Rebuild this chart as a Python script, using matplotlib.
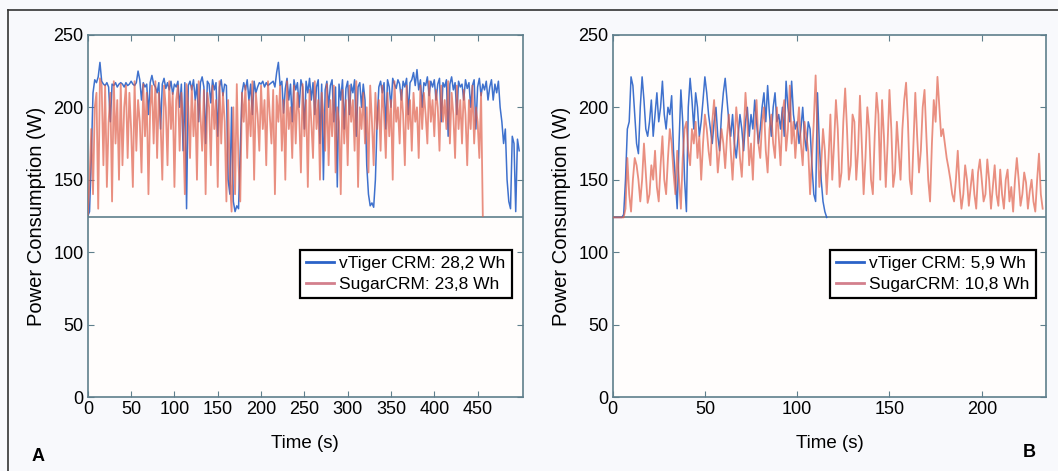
import numpy as np
import matplotlib
matplotlib.use("Agg")
import matplotlib.pyplot as plt
from matplotlib.lines import Line2D

plt.rcParams['font.family'] = ['Liberation Sans Narrow', 'Liberation Sans', 'DejaVu Sans']

# Panel A: samples every 2 s
vtigerA = [125, 128, 165, 210, 219, 217, 221, 231, 218, 216,
           215, 217, 214, 190, 216, 215, 217, 214, 216, 217,
           216, 214, 217, 215, 216, 218, 216, 215, 217, 225,
           219, 205, 217, 214, 216, 195, 217, 222, 216, 214,
           210, 217, 185, 216, 220, 213, 217, 212, 218, 209,
           216, 214, 218, 200, 216, 170, 217, 130, 215, 218,
           212, 219, 205, 216, 190, 217, 221, 214, 175, 218,
           216, 203, 219, 212, 217, 180, 214, 219, 208, 216,
           215, 150, 140, 200, 135, 128, 132, 130, 170, 210,
           217, 212, 219, 205, 216, 195, 218, 210, 214, 217,
           216, 218, 214, 217, 215, 216, 217, 218, 214, 224,
           231, 215, 218, 196, 213, 220, 205, 216, 190, 219,
           212, 217, 200, 219, 214, 185, 218, 210, 220, 205,
           217, 195, 214, 219, 175, 216, 150, 212, 218, 200,
           215, 219, 190, 214, 145, 216, 205, 219, 185, 213,
           218, 195, 216, 210, 219, 180, 214, 217, 200, 216,
           205, 160, 140, 132, 134, 131, 150, 190, 214, 218,
           210, 217, 185, 219, 214, 200, 220, 216, 213, 219,
           216, 205, 218, 214, 220, 195, 217, 219, 224, 215,
           226, 212, 219, 200, 217, 215, 221, 208, 218, 214,
           219, 205, 216, 220, 190, 217, 214, 219, 180, 216,
           221, 212, 217, 195, 218, 214, 216, 205, 219, 213,
           217, 200, 215, 219, 185, 214, 220, 208, 216, 212,
           218, 205, 214, 219, 205, 216, 210, 218, 200, 190,
           175, 185, 150, 135, 130, 180, 175, 128, 178, 170]

sugarA = [126, 150, 185, 140, 200, 210, 130, 220, 215, 160,
          215, 145, 190, 210, 135, 218, 175, 205, 150, 216,
          160, 200, 215, 165, 210, 185, 145, 218, 170, 205,
          190, 155, 216, 180, 210, 140, 200, 215, 175, 218,
          165, 210, 190, 150, 215, 200, 160, 218, 185, 210,
          145, 205, 215, 170, 210, 190, 140, 216, 200, 165,
          215, 180, 205, 150, 218, 195, 170, 212, 140, 210,
          200, 160, 215, 185, 205, 145, 218, 175, 210, 190,
          135, 205, 150, 128, 200, 140, 216, 160, 135, 210,
          190, 215, 165, 205, 180, 218, 150, 210, 195, 170,
          215, 185, 205, 160, 218, 195, 175, 212, 140, 208,
          190, 215, 170, 205, 150, 218, 185, 200, 165, 215,
          175, 210, 195, 155, 216, 180, 205, 145, 212, 190,
          165, 218, 185, 205, 150, 210, 195, 170, 216, 160,
          205, 180, 215, 155, 200, 190, 140, 212, 175, 205,
          160, 215, 190, 205, 170, 218, 145, 200, 185, 210,
          175, 200, 155, 215, 190, 160, 210, 185, 205, 170,
          215, 195, 165, 210, 180, 205, 150, 218, 190, 200,
          175, 212, 195, 160, 215, 185, 205, 170, 210, 190,
          200, 165, 215, 185, 210, 195, 175, 218, 190, 205,
          180, 212, 200, 170, 215, 190, 205, 185, 218, 175,
          210, 195, 165, 215, 185, 205, 175, 212, 195, 160,
          205, 185, 215, 175, 200, 190, 165, 210, 125]

# Panel B: samples every 1 s
vtigerB = [124, 124, 124, 124, 124, 124, 126, 150, 185, 190,
           221, 215, 195, 175, 168, 200, 221, 205, 185, 180,
           190, 205, 180, 195, 210, 190, 200, 218, 195, 185,
           200, 195, 208, 170, 150, 130, 175, 212, 190, 150,
           128, 200, 220, 205, 185, 210, 200, 180, 190, 205,
           221, 210, 195, 185, 175, 190, 200, 180, 170, 195,
           210, 220, 205, 190, 180, 195, 175, 165, 180, 195,
           185, 170, 190, 200, 180, 195, 185, 205, 190, 175,
           185, 200, 210, 190, 215, 195, 180, 200, 210, 190,
           195, 185, 200, 180, 218, 200, 190, 218, 195, 185,
           190, 175, 185, 200, 180, 170, 190, 185, 160, 140,
           135, 210, 175, 150, 135, 128, 124]

sugarB = [124, 124, 124, 124, 124, 124, 124, 130, 165, 140,
          128, 150, 165, 160, 150, 135, 150, 175, 155, 134,
          140, 160, 150, 170, 145, 135, 160, 180, 150, 140,
          165, 185, 175, 155, 140, 170, 150, 130, 165, 185,
          190, 170, 160, 185, 175, 190, 165, 180, 150, 175,
          195, 185, 170, 160, 190, 205, 180, 155, 170, 185,
          175, 158, 180, 195, 170, 150, 175, 200, 185, 165,
          152, 180, 210, 190, 160, 175, 150, 185, 205, 175,
          165, 190, 200, 170, 155, 185, 195, 175, 165, 200,
          180, 160, 195, 205, 170, 185, 215, 175, 190, 165,
          185, 200, 175, 160, 190, 180, 170, 140, 165, 190,
          222, 180, 145, 160, 185, 170, 140, 165, 195, 150,
          175, 205, 185, 145, 155, 190, 213, 185, 150, 160,
          195, 190, 150, 170, 208, 175, 140, 165, 200, 185,
          150, 140, 180, 210, 195, 150, 205, 180, 145, 175,
          212, 185, 145, 155, 190, 170, 150, 185, 205, 217,
          190, 150, 140, 175, 210, 180, 155, 170, 200, 212,
          180, 150, 135, 175, 205, 190, 221, 200, 180, 185,
          175, 165, 158, 150, 140, 135, 150, 170, 145, 130,
          140, 160, 150, 132, 145, 157, 140, 130, 155, 164,
          150, 135, 140, 164, 150, 130, 145, 160, 140, 132,
          157, 140, 130, 150, 157, 135, 145, 128, 150, 165,
          150, 132, 140, 155, 148, 130, 142, 150, 135, 128,
          150, 168, 140, 130]

baseline = 124
legendA = ["vTiger CRM: 28,2 Wh", "SugarCRM: 23,8 Wh"]
legendB = ["vTiger CRM: 5,9 Wh", "SugarCRM: 10,8 Wh"]

spineCol = "#5f7f8c"
blue = "#2a62c8"
red = "#e0604c"

fig = plt.figure(figsize=(10.58, 4.71), dpi=100, facecolor="#f8f9fc")

def drawPanel(rect, tv, vv, ts, sv, xmax, xticks, labels):
    ax = fig.add_axes(rect)
    ax.set_facecolor("#fffdfc")
    ax.axhline(baseline, color=spineCol, lw=1.2, zorder=1)
    ax.plot(tv, vv, color=blue, lw=1.1, alpha=0.9, zorder=2)
    ax.plot(ts, sv, color=red, lw=1.3, alpha=0.7, zorder=3)
    ax.set_xlim(0, xmax)
    ax.set_ylim(0, 250)
    ax.set_xticks(xticks)
    ax.set_yticks([0, 50, 100, 150, 200, 250])
    ax.tick_params(direction="in", top=True, right=True, length=4,
                   color=spineCol, labelsize=13, pad=3)
    for s in ax.spines.values():
        s.set_color(spineCol)
        s.set_linewidth(1.2)
    ax.set_xlabel("Time (s)", fontsize=13.5, labelpad=12)
    ax.set_ylabel("Power Consumption (W)", fontsize=14.5, labelpad=5)
    h = [Line2D([], [], color=blue, lw=2), Line2D([], [], color="#c86070", lw=2, alpha=0.8)]
    leg = ax.legend(h, labels, loc="upper right", bbox_to_anchor=(0.995, 0.43),
                    fontsize=12.5, fancybox=False, framealpha=1, edgecolor="black",
                    handlelength=1.6, handletextpad=0.3, borderpad=0.35, labelspacing=0.3)
    leg.get_frame().set_linewidth(1.6)
    return ax

tA = np.arange(len(vtigerA)) * 2
tAs = np.arange(len(sugarA)) * 2
tB = np.arange(len(vtigerB))
tBs = np.arange(len(sugarB))

drawPanel([0.083, 0.157, 0.411, 0.769], tA, vtigerA, tAs, sugarA, 502,
          range(0, 451, 50), legendA)
drawPanel([0.579, 0.157, 0.410, 0.769], tB, vtigerB, tBs, sugarB, 235,
          range(0, 201, 50), legendB)

# frame and panel letters
fig.add_artist(Line2D([0.0076, 0.0076], [0, 0.978], color="#333333", lw=1.2, transform=fig.transFigure))
fig.add_artist(Line2D([0.0076, 1.0], [0.978, 0.978], color="#333333", lw=1.2, transform=fig.transFigure))
fig.text(0.030, 0.022, "A", fontsize=13, fontweight="bold")
fig.text(0.967, 0.030, "B", fontsize=13, fontweight="bold")

plt.savefig("out.png", dpi=100, facecolor=fig.get_facecolor())
